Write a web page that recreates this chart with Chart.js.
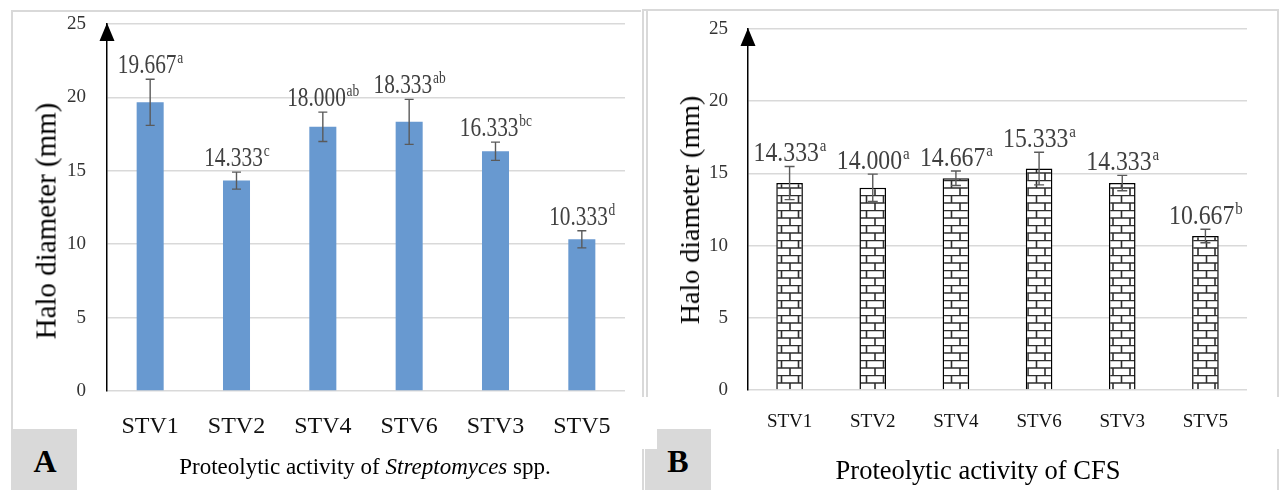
<!DOCTYPE html>
<html><head><meta charset="utf-8">
<script src="https://cdn.jsdelivr.net/npm/chart.js@4/dist/chart.umd.min.js"></script>
<style>
html,body{margin:0;padding:0;background:#fff;}
#wrap{position:relative;width:1282px;height:490px;overflow:hidden;background:#fff;font-family:'Liberation Serif','Times New Roman',serif;}
canvas{position:absolute;top:0;}
.ln{position:absolute;background:#d9d9d9;}
.box{position:absolute;background:#d9d9d9;}
.t{position:absolute;white-space:nowrap;color:#000;}
.ytitle{position:absolute;white-space:nowrap;transform:translate(-50%,-50%) rotate(-90deg);color:#000;}
.lbl{position:absolute;font-weight:bold;font-size:32px;transform:translate(-50%,-50%);color:#000;}
</style></head>
<body>
<div id="wrap">
  <div class="ln" style="left:11px;top:10px;width:630px;height:1.5px"></div>
  <div class="ln" style="left:11px;top:10px;width:1.5px;height:480px"></div>
  <div class="ln" style="left:642px;top:9px;width:637px;height:1.5px"></div>
  <div class="ln" style="left:642px;top:9px;width:1.5px;height:388px"></div>
  <div class="ln" style="left:646px;top:9px;width:1.5px;height:388px"></div>
  <div class="ln" style="left:642px;top:449px;width:1.5px;height:41px"></div>
  <div class="ln" style="left:1277px;top:9px;width:1.5px;height:388px"></div>
  <div class="ln" style="left:1277px;top:449px;width:1.5px;height:41px"></div>

  <canvas id="cA" width="641" height="490" style="left:0"></canvas>
  <canvas id="cB" width="641" height="490" style="left:641px"></canvas>

  <div class="ytitle" style="left:46px;top:221px;font-size:29px">Halo diameter (mm)</div>
  <div class="ytitle" style="left:690px;top:210px;font-size:28px">Halo diameter (mm)</div>

  <div class="t" style="left:365px;top:467px;font-size:23px;transform:translate(-50%,-50%)">Proteolytic activity of <i>Streptomyces</i> spp.</div>
  <div class="t" style="left:978px;top:470px;font-size:26.5px;transform:translate(-50%,-50%)">Proteolytic activity of CFS</div>

  <div class="box" style="left:13px;top:429px;width:64px;height:61px"></div>
  <div class="lbl" style="left:45px;top:461px">A</div>
  <div class="box" style="left:657px;top:429px;width:54px;height:61px"></div>
  <div class="box" style="left:645px;top:449px;width:66px;height:41px"></div>
  <div class="lbl" style="left:678px;top:461px">B</div>
</div>
<script>
const categories = ['STV1','STV2','STV4','STV6','STV3','STV5'];
const yTickValues = [0,5,10,15,20,25];

const streptoValues  = [19.667, 14.333, 18.000, 18.333, 16.333, 10.333];
const streptoErrors  = [1.57, 0.58, 1.0, 1.53, 0.62, 0.58];
const streptoLetters = ['a','c','ab','ab','bc','d'];

const cfsValues  = [14.333, 14.000, 14.667, 15.333, 14.333, 10.667];
const cfsErrors  = [1.15, 0.95, 0.5, 1.13, 0.53, 0.47];
const cfsLetters = ['a','a','a','a','a','b'];

const SERIF = "'Liberation Serif','Times New Roman',serif";

function makeBrick(){
  const c=document.createElement('canvas'); c.width=17; c.height=15;
  const g=c.getContext('2d');
  g.fillStyle='#fff'; g.fillRect(0,0,17,15);
  g.strokeStyle='#2e2e2e'; g.lineWidth=1.6;
  g.beginPath();
  g.moveTo(0,0.5); g.lineTo(17,0.5);
  g.moveTo(0,8); g.lineTo(17,8);
  g.moveTo(4.5,0.5); g.lineTo(4.5,8);
  g.moveTo(13,8); g.lineTo(13,15);
  g.stroke();
  return g.createPattern(c,'repeat');
}

function overlayPlugin(values, errors, letters, cfg){
  return {
    id:'overlay',
    afterDatasetsDraw(chart){
      const ctx=chart.ctx, y=chart.scales.y, meta=chart.getDatasetMeta(0);
      ctx.save();
      ctx.strokeStyle='#5a5a5a'; ctx.lineWidth=1.4;
      meta.data.forEach((bar,i)=>{
        const x=bar.x, yt=y.getPixelForValue(values[i]+errors[i]), yb=y.getPixelForValue(values[i]-errors[i]);
        ctx.beginPath();
        ctx.moveTo(x,yt); ctx.lineTo(x,yb);
        ctx.moveTo(x-cfg.cap,yt); ctx.lineTo(x+cfg.cap,yt);
        ctx.moveTo(x-cfg.cap,yb); ctx.lineTo(x+cfg.cap,yb);
        ctx.stroke();
      });
      ctx.fillStyle='#404040'; ctx.textBaseline='alphabetic';
      meta.data.forEach((bar,i)=>{
        const main=values[i].toFixed(3), sup=letters[i];
        const base=y.getPixelForValue(values[i]+errors[i])-cfg.gap;
        const sfs=Math.round(cfg.fs*0.62);
        ctx.save();
        ctx.translate(bar.x, base);
        ctx.scale(cfg.sx,1);
        ctx.font=cfg.fs+'px '+SERIF;
        const w1=ctx.measureText(main).width;
        ctx.font=sfs+'px '+SERIF;
        const w2=ctx.measureText(sup).width;
        const start=-(w1+w2)/2;
        ctx.textAlign='left';
        ctx.font=cfg.fs+'px '+SERIF;
        ctx.fillText(main,start,0);
        ctx.font=sfs+'px '+SERIF;
        ctx.fillText(sup,start+w1+1,-cfg.fs*0.38);
        ctx.restore();
      });
      ctx.restore();
    },
    afterDraw(chart){
      const ctx=chart.ctx, a=chart.chartArea;
      ctx.save();
      ctx.fillStyle='#000';
      ctx.beginPath();
      ctx.moveTo(a.left-7.5,a.top+17);
      ctx.lineTo(a.left+7.5,a.top+17);
      ctx.lineTo(a.left,a.top-1);
      ctx.closePath(); ctx.fill();
      ctx.restore();
    }
  };
}

function makeChart(id, values, errors, letters, o){
  return new Chart(document.getElementById(id),{
    type:'bar',
    data:{labels:categories, datasets:[{data:values, backgroundColor:o.fill, borderColor:o.border, borderWidth:o.bw, barPercentage:o.bp, categoryPercentage:1}]},
    options:{
      responsive:false, animation:false, devicePixelRatio:1,
      layout:{padding:{top:o.top,right:o.right,left:0,bottom:0}},
      plugins:{legend:{display:false},tooltip:{enabled:false}},
      scales:{
        x:{grid:{display:false,drawTicks:false},border:{display:false},
           ticks:{font:{family:SERIF,size:o.xfs},color:'#111',padding:o.xpad,maxRotation:0,autoSkip:false},
           afterFit(s){s.height=o.xh; s.paddingLeft=0; s.paddingRight=0;}},
        y:{min:0,max:25,grid:{color:'#d9d9d9',lineWidth:1.5,drawTicks:false},
           border:{display:true,color:'#000',width:1.5},
           afterBuildTicks(s){s.ticks=yTickValues.map(v=>({value:v}));},
           ticks:{font:{family:SERIF,size:19},color:'#333',padding:o.ypad},
           afterFit(s){s.width=107; s.paddingTop=4; s.paddingBottom=4;}}
      }
    },
    plugins:[overlayPlugin(values,errors,letters,o)]
  });
}

makeChart('cA', streptoValues, streptoErrors, streptoLetters,
  {fill:'#6899d0',border:'#6899d0',bw:0,bp:0.313,top:24,right:16,xh:99,xfs:24,xpad:21,ypad:21,cap:4.5,gap:6,fs:27,sx:0.79});
makeChart('cB', cfsValues, cfsErrors, cfsLetters,
  {fill:makeBrick(),border:'#000',bw:1.5,bp:0.32,top:29,right:35,xh:100,xfs:19,xpad:21,ypad:20,cap:5,gap:5,fs:27,sx:0.88});
</script>
</body></html>
